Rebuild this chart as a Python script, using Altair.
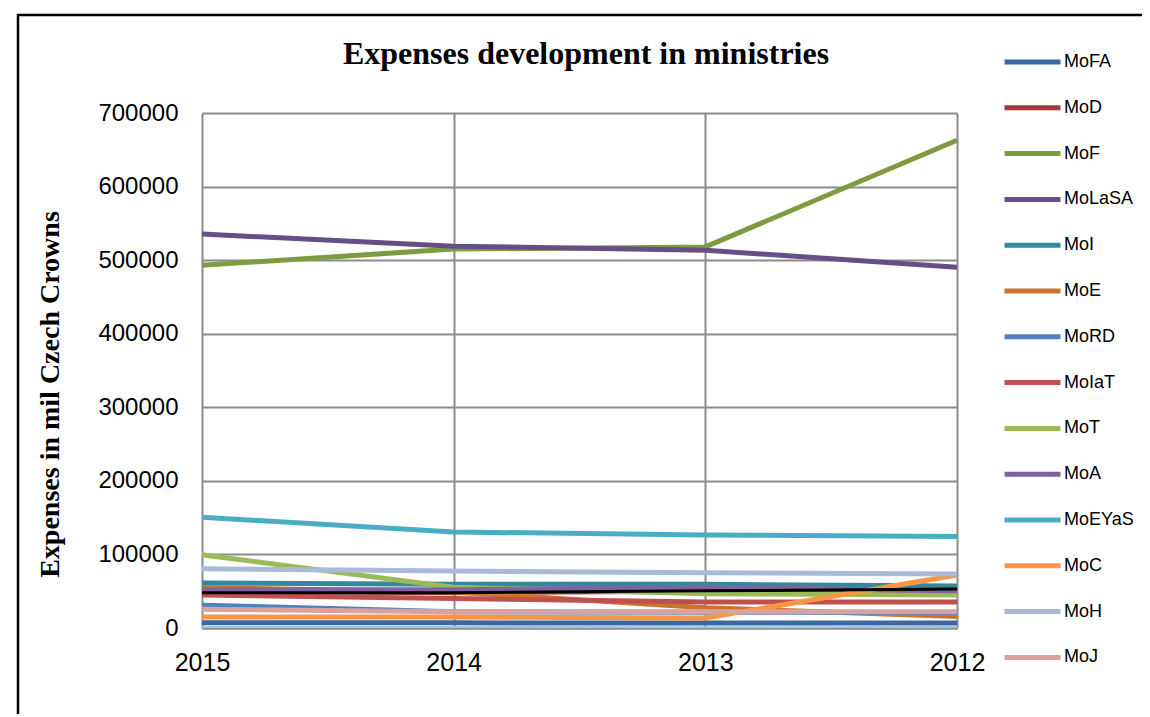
import altair as alt
import pandas as pd

years = ["2015", "2014", "2013", "2012"]

ministries = ["MoFA", "MoD", "MoF", "MoLaSA", "MoI", "MoE", "MoRD", "MoIaT",
              "MoT", "MoA", "MoEYaS", "MoC", "MoH", "MoJ"]

MoFA = [7000, 7000, 6800, 6800]
MoD = [50000, 48000, 50000, 51000]
MoF = [493000, 515000, 518000, 663000]
MoLaSA = [535500, 519000, 513500, 490500]
MoI = [61000, 59500, 59500, 57000]
MoE = [55000, 49000, 27500, 15500]
MoRD = [31000, 22000, 21500, 21000]
MoIaT = [45000, 40000, 35500, 35500]
MoT = [99500, 55500, 46500, 45000]
MoA = [52000, 52000, 55500, 50500]
MoEYaS = [150500, 130500, 126500, 124500]
MoC = [15000, 15000, 13500, 72000]
MoH = [80500, 77500, 75000, 73500]
MoJ = [25500, 22000, 22000, 22000]

# series drawn in the chart whose legend entries are cut off
unlisted_black = [48000, 48000, 50500, 53000]
unlisted_lightblue = [1500, 1500, 1000, 1500]

title_text = ["Expenses development in ministries"]

colors = ["#3C68A0", "#A23B39", "#7E9B40", "#664E87", "#34889E", "#C8762E",
          "#4F81BD", "#C0504D", "#9BBB59", "#8064A2", "#4BACC6", "#F79646",
          "#A8BAD8", "#D9A2A1"]

series = [MoFA, MoD, MoF, MoLaSA, MoI, MoE, MoRD, MoIaT, MoT, MoA, MoEYaS,
          MoC, MoH, MoJ]

rows = []
for name, vals in zip(ministries, series):
    for y, v in zip(years, vals):
        rows.append({"year": y, "ministry": name, "value": v})
df = pd.DataFrame(rows)

extra = pd.DataFrame(
    [{"year": y, "s": "black", "value": v} for y, v in zip(years, unlisted_black)]
    + [{"year": y, "s": "lightblue", "value": v} for y, v in zip(years, unlisted_lightblue)]
)

x_enc = alt.X("year:O", sort=years, title=None,
              scale=alt.Scale(type="point", padding=0),
              axis=alt.Axis(labelAngle=0, labelFontSize=25, labelFont="Liberation Sans",
                            labelColor="black", labelPadding=34, ticks=False,
                            labelFlush=False, labelAlign="center",
                            grid=True, gridColor="#8C8C8C", gridWidth=2,
                            domainColor="#8C8C8C", domainWidth=2))
y_enc = alt.Y("value:Q", title="Expenses in mil Czech Crowns",
              scale=alt.Scale(domain=[0, 700000], nice=False),
              axis=alt.Axis(values=[0, 100000, 200000, 300000, 400000, 500000, 600000, 700000],
                            format="d", labelFontSize=24, labelFont="Liberation Sans",
                            labelColor="black", labelPadding=24, ticks=False,
                            grid=True, gridColor="#8C8C8C", gridWidth=2,
                            domain=False,
                            titleFont="Liberation Serif", titleFontSize=28,
                            titleFontWeight="bold", titleColor="black",
                            titleAngle=-90, titleAlign="center", titleBaseline="middle",
                            titleX=-152, titleY=281))

lines = alt.Chart(df).mark_line(strokeWidth=5).encode(
    x=x_enc,
    y=y_enc,
    color=alt.Color("ministry:N", sort=ministries,
                    scale=alt.Scale(domain=ministries, range=colors),
                    legend=alt.Legend(title=None, orient="none", legendX=800, legendY=-61,
                                      symbolType="stroke", symbolSize=3136,
                                      symbolStrokeWidth=5, clipHeight=20,
                                      rowPadding=25.8, labelFontSize=18,
                                      labelFont="Liberation Sans", labelColor="black",
                                      labelOffset=1, padding=0, labelLimit=200)),
)

black_line = alt.Chart(extra[extra.s == "black"]).mark_line(strokeWidth=3, color="black").encode(
    x=alt.X("year:O", sort=years), y="value:Q")
lb_line = alt.Chart(extra[extra.s == "lightblue"]).mark_line(strokeWidth=2, color="#9DC3E6").encode(
    x=alt.X("year:O", sort=years), y="value:Q")

border = alt.Chart(pd.DataFrame({"a": [0]})).mark_rect(
    fill=None, stroke="black", strokeWidth=2.5
).encode(x=alt.value(-184), x2=alt.value(1000), y=alt.value(-98), y2=alt.value(700))

title = alt.Chart(pd.DataFrame({"t": title_text})).mark_text(
    font="Liberation Serif", fontSize=32, fontWeight="bold", color="black",
    align="center", baseline="alphabetic"
).encode(text="t:N", x=alt.value(384), y=alt.value(-49))

chart = alt.layer(lb_line, lines, black_line, border, title).properties(
    width=755, height=515,
    autosize=alt.AutoSizeParams(type="none"),
    padding={"left": 194, "top": 105, "right": 185, "bottom": 86},
).configure_view(stroke=None).configure(background="white")

chart.save("out.html", embed_options={"renderer": "svg", "actions": False})
